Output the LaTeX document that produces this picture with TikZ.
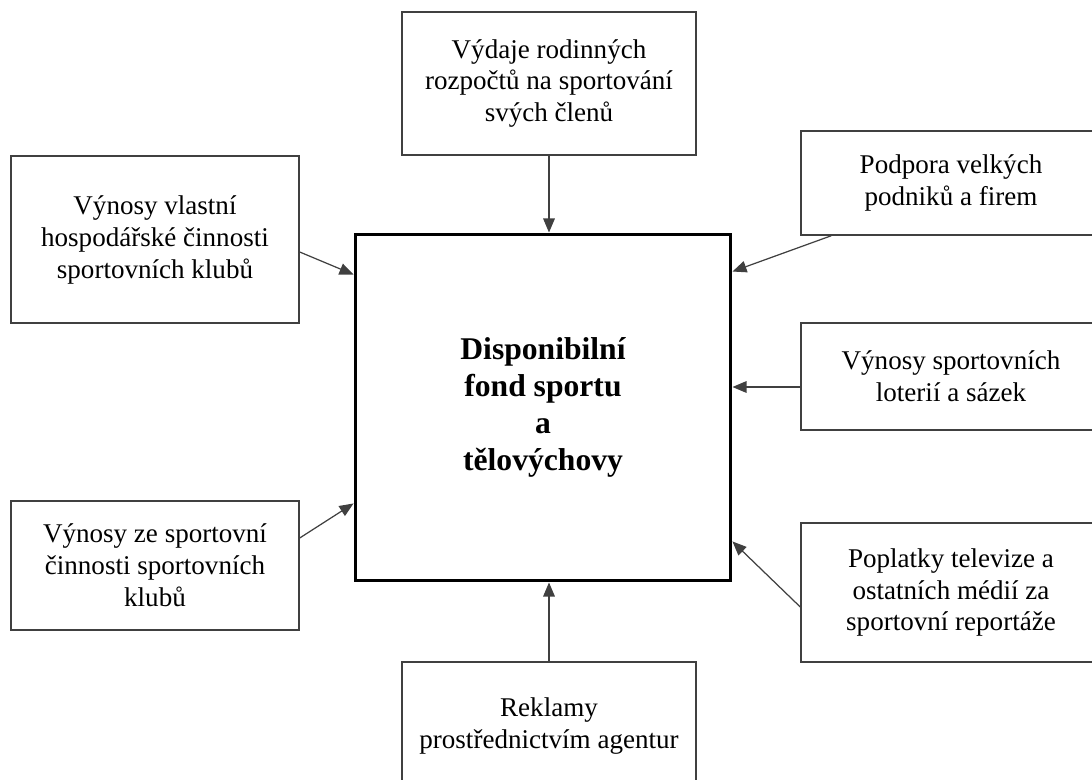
\documentclass[tikz,border=0pt]{standalone}
\usepackage{fontspec}
\setmainfont{Liberation Serif}
\usetikzlibrary{arrows.meta,calc,positioning}
\definecolor{boxgray}{rgb}{0.25,0.25,0.25}

\begin{document}
\begin{tikzpicture}[x=0.02cm,y=-0.02cm,
    src/.style={draw=boxgray,line width=0.85pt,align=center,inner sep=0pt,font=\fontsize{15.4}{18.2}\selectfont},
    arr/.style={draw=boxgray,line width=0.7pt,-{Triangle[length=8pt,width=6.6pt]}}]
   	 \useasboundingbox (0,0) rectangle (1092,780);
   	 \clip (0,0) rectangle (1092,780);
   	 \node[draw=black,line width=1.7pt,minimum width=7.52cm,minimum height=6.94cm,align=center,font=\fontsize{18}{20.9}\selectfont\bfseries] (fond) at (543,407.5) {Disponibilní\\fond sportu\\a\\tělovýchovy};
   	 \node[src,minimum width=5.88cm,minimum height=2.86cm] (rodiny) at (549,83.5) {Výdaje rodinných\\rozpočtů na sportování\\svých členů};
   	 \node[src,minimum width=5.76cm,minimum height=3.34cm] (hosp) at (155,239.5) {Výnosy vlastní\\hospodářské činnosti\\sportovních klubů};
   	 \node[src,minimum width=5.76cm,minimum height=2.58cm] (cinnost) at (155,565.5) {Výnosy ze sportovní\\činnosti sportovních\\klubů};
   	 \node[src,minimum width=6cm,minimum height=2.08cm] (firmy) at (951,183) {Podpora velkých\\podniků a firem};
   	 \node[src,minimum width=6cm,minimum height=2.14cm] (loterie) at (951,376.5) {Výnosy sportovních\\loterií a sázek};
   	 \node[src,minimum width=6cm,minimum height=2.78cm] (media) at (951,592.5) {Poplatky televize a\\ostatních médií za\\sportovní reportáže};
   	 \node[src,minimum width=5.88cm,minimum height=2.56cm] (reklamy) at (549,726) {Reklamy\\prostřednictvím agentur};
   	 \draw[arr] (rodiny.south) -- (rodiny.south |- fond.north);
   	 \draw[arr] ($(hosp.east)+(0,12.5)$) -- ($(fond.north west)+(0,42)$);
   	 \draw[arr] ($(firmy.south west)+(31,0)$) -- ($(fond.north east)+(0,39)$);
   	 \draw[arr] ($(loterie.west)+(0,10.5)$) -- ($(fond.east |- loterie.west)+(0,10.5)$);
   	 \draw[arr] ($(cinnost.east)+(0,-27.5)$) -- ($(fond.south west)+(0,-79)$);
   	 \draw[arr] ($(media.west)+(0,14.5)$) -- ($(fond.south east)+(0,-41)$);
   	 \draw[arr] (reklamy.north) -- (reklamy.north |- fond.south);
\end{tikzpicture}
\end{document}
